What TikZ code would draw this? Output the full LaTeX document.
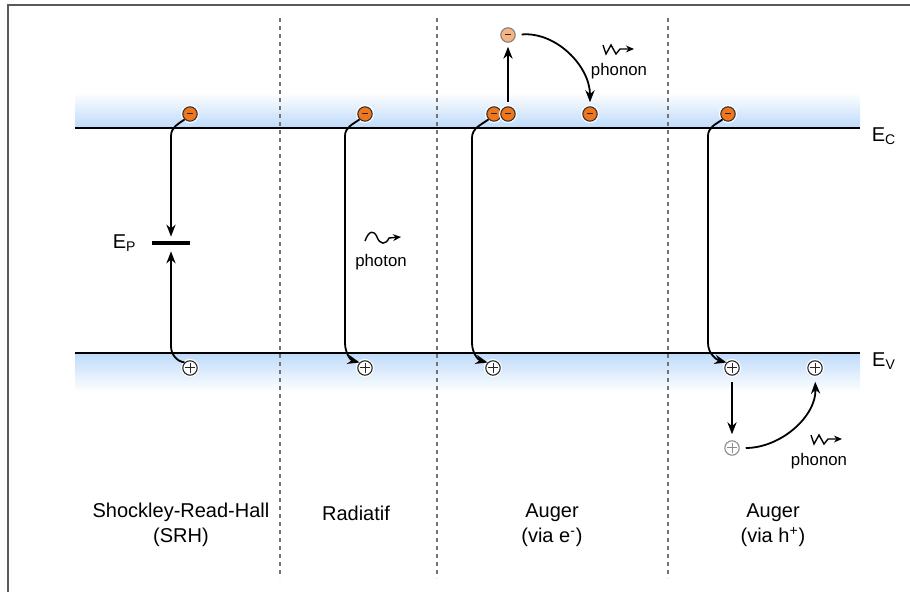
\documentclass[tikz,border=0pt]{standalone}
\usepackage{fontspec}
\setmainfont{Liberation Sans}
\usetikzlibrary{arrows.meta,positioning}

\definecolor{bandblue}{RGB}{190,218,250}
\definecolor{eorange}{RGB}{238,118,28}
\definecolor{eorangelight}{RGB}{246,180,130}

\tikzset{
  carrier/.style={circle, inner sep=0pt, minimum size=7.2pt, line width=0.55pt,
    preaction={draw=white, line width=1.8pt}},
  electron/.style={carrier, draw=black!80, fill=eorange,
    path picture={\draw[line width=0.5pt, black!85]
      ([xshift=-1.4pt]path picture bounding box.center) --
      ([xshift=1.4pt]path picture bounding box.center);}},
  excited/.style={electron, fill=eorangelight, draw=black!50},
  hole/.style={carrier, draw=black!85, fill=white,
    path picture={\draw[line width=0.5pt, black!85]
      ([xshift=-2.3pt]path picture bounding box.center) --
      ([xshift=2.3pt]path picture bounding box.center)
      ([yshift=-2.3pt]path picture bounding box.center) --
      ([yshift=2.3pt]path picture bounding box.center);}},
  ghosthole/.style={hole, draw=black!45,
    path picture={\draw[line width=0.5pt, black!45]
      ([xshift=-2.3pt]path picture bounding box.center) --
      ([xshift=2.3pt]path picture bounding box.center)
      ([yshift=-2.3pt]path picture bounding box.center) --
      ([yshift=2.3pt]path picture bounding box.center);}},
  trans/.style={line width=0.9pt, -{Stealth[length=6pt,width=4.6pt]}},
  quantum/.style={line width=0.7pt, -{Stealth[length=4pt,width=3.4pt]}},
  sep/.style={black!55, line width=0.55pt, dash pattern=on 2pt off 2pt},
  level/.style={line width=1pt},
  caption/.style={align=center, font=\fontsize{10}{12.5}\selectfont},
}

\begin{document}
\begin{tikzpicture}[x=0.5pt,y=-0.5pt, font=\fontsize{8.4}{10}\selectfont]
  \useasboundingbox (0,0) rectangle (910,592);

  % frame
  \draw[black!65, line width=1pt] (8,592) -- (8,5) -- (910,5);

  % bands
  \shade[top color=white, bottom color=bandblue] (75,92) rectangle (860,128);
  \shade[top color=bandblue, bottom color=white] (75,353) rectangle (860,392);
  \draw[level] (75,128) -- (860,128);
  \draw[level] (75,353) -- (860,353);
  \node[font=\fontsize{10}{12}\selectfont] (ec) at (884,136) {E\textsubscript{C}};
  \node[font=\fontsize{10}{12}\selectfont] (ev) at (884,361) {E\textsubscript{V}};

  % separators
  \foreach \x in {280,437,668}
    \draw[sep] (\x,18) -- (\x,578);

  % Shockley-Read-Hall
  \node[electron] (eS) at (190,114) {};
  \node[hole] (hS) at (190,368) {};
  \node[fill=black, inner sep=0pt, minimum width=19pt, minimum height=2pt] (ep) at (171,243) {};
  \node[left=4pt of ep, font=\fontsize{10}{12}\selectfont] (epL) {E\textsubscript{P}};
  \draw[trans, shorten >=2pt] (eS.south west) to[out=215,in=90] (ep.north |- 0,136) -- (ep.north);
  \draw[trans, shorten >=3pt] (hS.north west) to[out=170,in=-90] (ep.south |- 0,346) -- (ep.south);

  % Radiatif
  \node[electron] (eR) at (365,114) {};
  \node[hole] (hR) at (365,368) {};
  \draw[trans] (eR.south west) to[out=215,in=90] (345,136) -- (345,343) to[out=-90,in=165] (hR.north west);
  \draw[quantum]
    (365,241) .. controls (369,230) and (374,230) .. (377,237)
    .. controls (380,245) and (386,245) .. (389,238) -- (401,237);
  \node (photon) at (381,262) {photon};

  % Auger via e-
  \node[electron] (eA1) at (494,114) {};
  \node[electron] (eA2) at (508,114) {};
  \node[electron] (eA3) at (590,114) {};
  \node[excited] (eX) at (508,35) {};
  \node[hole] (hA) at (493,368) {};
  \draw[trans] (eA1.south west) to[out=215,in=90] (472,138) -- (472,343) to[out=-90,in=165] (hA.north west);
  \draw[trans, shorten <=2pt, shorten >=2pt] (eA2.north) -- (eX.south);
  \draw[trans, shorten <=3pt, shorten >=2pt] (eX.east) to[out=5,in=90] (eA3.north);
  \node (phonA) at (619,71) {phonon};
  \draw[quantum]
    ([xshift=-8pt,yshift=13pt]phonA.center) -- ++(3,9) -- ++(5,-9) -- ++(5,9) -- ++(4,-5) -- ++(14,0);

  % Auger via h+
  \node[electron] (eH) at (728,114) {};
  \node[hole] (hH1) at (732,368) {};
  \node[hole] (hH2) at (815,368) {};
  \node[ghosthole] (hX) at (732,448) {};
  \draw[trans] (eH.south west) to[out=215,in=90] (708,136) -- (708,343) to[out=-90,in=165] (hH1.north west);
  \draw[trans, shorten <=3pt, shorten >=3pt] (hH1.south) -- (hX.north);
  \draw[trans, shorten <=3pt, shorten >=3pt] (hX.east) to[out=0,in=-88] (hH2.south);
  \node (phonH) at (819,461) {phonon};
  \draw[quantum]
    ([xshift=-4pt,yshift=13pt]phonH.center) -- ++(3,9) -- ++(5,-9) -- ++(5,9) -- ++(4,-5) -- ++(14,0);

  % labels
  \node[caption] (lSRH) at (181,525) {Shockley-Read-Hall\\(SRH)};
  \node[caption] (lRad) at (356,513) {Radiatif};
  \node[caption] (lAe) at (552,525) {Auger\\(via e\textsuperscript{-})};
  \node[caption] (lAh) at (773,525) {Auger\\(via h\textsuperscript{+})};
\end{tikzpicture}
\end{document}
